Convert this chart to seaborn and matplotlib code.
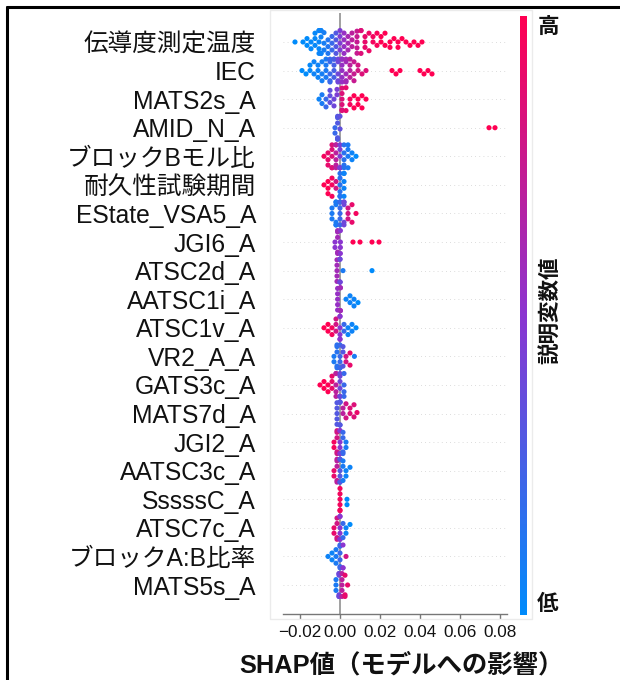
import warnings
warnings.filterwarnings("ignore")
import numpy as np
import pandas as pd
import matplotlib
matplotlib.use("Agg")
import matplotlib.pyplot as plt
import seaborn as sns
from matplotlib.colors import LinearSegmentedColormap
from matplotlib.lines import Line2D
from matplotlib.patches import Rectangle
from matplotlib.cm import ScalarMappable

# ---------------- data ----------------
features = [
    "伝導度測定温度", "IEC", "MATS2s_A", "AMID_N_A", "ブロックBモル比",
    "耐久性試験期間", "EState_VSA5_A", "JGI6_A", "ATSC2d_A", "AATSC1i_A",
    "ATSC1v_A", "VR2_A_A", "GATS3c_A", "MATS7d_A", "JGI2_A",
    "AATSC3c_A", "SssssC_A", "ATSC7c_A", "ブロックA:B比率", "MATS5s_A",
]
# each entry: (SHAP value, number of samples, feature value 0=low .. 1=high)
swarm_01 = [(-0.0225, 1, 0.0), (-0.0185, 1, 0.0), (-0.0165, 2, 0.0), (-0.0145, 2, 0.02),
            (-0.0125, 3, 0.02), (-0.0105, 5, 0.03), (-0.0095, 5, 0.05), (-0.008, 3, 0.08),
            (-0.006, 3, 0.12), (-0.004, 3, 0.2), (-0.002, 4, 0.3), (0.0, 4, 0.45),
            (0.002, 4, 0.55), (0.004, 3, 0.62), (0.006, 3, 0.7), (0.0085, 5, 0.75),
            (0.0105, 3, 0.85), (0.0125, 3, 0.9), (0.0145, 2, 0.92), (0.0165, 2, 0.95),
            (0.0185, 2, 0.97), (0.0205, 2, 1.0), (0.0225, 2, 1.0), (0.025, 2, 1.0),
            (0.027, 1, 1.0), (0.029, 2, 1.0), (0.031, 1, 1.0), (0.033, 1, 1.0),
            (0.035, 1, 1.0), (0.037, 1, 1.0), (0.039, 1, 1.0), (0.041, 1, 1.0)]
swarm_02 = [(-0.019, 1, 0.0), (-0.017, 1, 0.0), (-0.015, 2, 0.02), (-0.013, 2, 0.05),
            (-0.011, 3, 0.05), (-0.009, 3, 0.08), (-0.007, 4, 0.1), (-0.005, 5, 0.2),
            (-0.003, 5, 0.25), (-0.001, 5, 0.4), (0.001, 6, 0.55), (0.003, 5, 0.6),
            (0.005, 4, 0.7), (0.007, 3, 0.75), (0.009, 2, 0.8), (0.011, 1, 0.85),
            (0.013, 1, 0.85), (0.026, 1, 1.0), (0.028, 1, 1.0), (0.030, 1, 1.0),
            (0.040, 1, 1.0), (0.042, 1, 1.0), (0.044, 1, 1.0), (0.046, 1, 1.0)]
swarm_03 = [(-0.0105, 1, 0.05), (-0.009, 2, 0.1), (-0.007, 2, 0.2), (-0.005, 3, 0.35),
            (-0.003, 2, 0.4), (-0.0015, 2, 0.45), (0.001, 6, 0.85), (0.003, 2, 0.9),
            (0.005, 2, 0.95), (0.007, 2, 1.0), (0.009, 2, 1.0), (0.011, 2, 1.0),
            (0.013, 1, 1.0)]
swarm_04 = [(-0.0025, 2, 0.2), (-0.0012, 6, 0.3), (0.0, 2, 0.35),
            (0.0745, 1, 1.0), (0.0775, 1, 1.0)]
swarm_05 = [(-0.008, 1, 0.95), (-0.006, 3, 0.9), (-0.004, 5, 0.85), (-0.002, 6, 0.7),
            (0.0, 6, 0.45), (0.002, 5, 0.15), (0.004, 4, 0.1), (0.006, 2, 0.05),
            (0.008, 1, 0.0)]
swarm_06 = [(-0.008, 1, 1.0), (-0.006, 3, 1.0), (-0.004, 3, 0.95), (-0.002, 2, 0.8),
            (0.0, 6, 0.15), (0.002, 5, 0.05)]
swarm_07 = [(-0.004, 3, 0.1), (-0.002, 6, 0.1), (0.0, 6, 0.2), (0.002, 5, 0.4),
            (0.004, 3, 0.8), (0.006, 2, 0.9), (0.008, 1, 0.95)]
swarm_08 = [(-0.0025, 2, 0.5), (-0.0012, 5, 0.6), (0.0002, 4, 0.5),
            (0.0065, 1, 1.0), (0.010, 1, 1.0), (0.016, 1, 1.0), (0.0195, 1, 1.0)]
swarm_09 = [(-0.0015, 5, 0.6), (0.0, 5, 0.4), (0.0015, 1, 0.1), (0.016, 1, 0.0)]
swarm_10 = [(-0.0012, 5, 0.55), (0.0002, 4, 0.6), (0.003, 1, 0.05), (0.005, 2, 0.05),
            (0.007, 2, 0.05), (0.009, 1, 0.0)]
swarm_11 = [(-0.008, 1, 1.0), (-0.006, 2, 1.0), (-0.004, 2, 0.95), (-0.002, 3, 0.8),
            (0.0, 6, 0.5), (0.002, 2, 0.2), (0.004, 2, 0.05), (0.006, 2, 0.05),
            (0.008, 1, 0.0)]
swarm_12 = [(-0.003, 2, 0.1), (-0.0015, 5, 0.15), (0.0, 5, 0.2), (0.0015, 3, 0.3),
            (0.003, 2, 0.8), (0.005, 2, 0.9), (0.0072, 1, 0.1)]
swarm_13 = [(-0.010, 1, 1.0), (-0.008, 2, 1.0), (-0.006, 2, 1.0), (-0.004, 3, 0.9),
            (-0.002, 5, 0.7), (0.0, 6, 0.4), (0.002, 4, 0.2)]
swarm_14 = [(-0.0015, 5, 0.3), (0.0, 5, 0.3), (0.0015, 2, 0.7), (0.003, 2, 0.8),
            (0.005, 2, 0.85), (0.007, 2, 0.85), (0.0085, 1, 0.9)]
swarm_15 = [(-0.003, 2, 0.95), (-0.0015, 5, 0.8), (0.0, 6, 0.5), (0.0015, 4, 0.2),
            (0.003, 2, 0.1)]
swarm_16 = [(-0.003, 2, 0.9), (-0.0015, 5, 0.7), (0.0, 6, 0.3), (0.0015, 3, 0.1),
            (0.003, 2, 0.05), (0.005, 1, 0.05)]
swarm_17 = [(0.0, 6, 0.95), (0.0035, 2, 0.0)]
swarm_18 = [(-0.003, 2, 0.9), (-0.0015, 4, 0.8), (0.0, 6, 0.5), (0.0015, 2, 0.2),
            (0.003, 2, 0.05), (0.005, 1, 0.0)]
swarm_19 = [(-0.006, 1, 0.05), (-0.004, 2, 0.05), (-0.002, 3, 0.1), (0.0, 6, 0.2),
            (0.0015, 3, 0.5), (0.003, 1, 0.8)]
swarm_20 = [(-0.002, 3, 0.1), (-0.0005, 6, 0.4), (0.001, 5, 0.7), (0.0025, 3, 0.9),
            (0.0038, 1, 0.9)]

swarms = [swarm_01, swarm_02, swarm_03, swarm_04, swarm_05, swarm_06, swarm_07,
          swarm_08, swarm_09, swarm_10, swarm_11, swarm_12, swarm_13, swarm_14,
          swarm_15, swarm_16, swarm_17, swarm_18, swarm_19, swarm_20]

xticks = [-0.02, 0.00, 0.02, 0.04, 0.06, 0.08]
xticklabels = ["\u22120.02", "0.00", "0.02", "0.04", "0.06", "0.08"]

records = []
for name, bins in zip(features, swarms):
    for v, n, c in bins:
        records.extend([(name, v, c)] * n)
df = pd.DataFrame(records, columns=["feature", "shap", "fval"])

# ---------------- style ----------------
sns.set_theme(style="white")
plt.rcParams["font.family"] = ["Liberation Sans", "Noto Sans CJK JP", "DejaVu Sans"]

cmap = LinearSegmentedColormap.from_list("shap_red_blue", ["#008bfb", "#8b35d0", "#ff0052"])

W, H = 620, 680
fig = plt.figure(figsize=(W / 100, H / 100), dpi=100)
top_px, bot_px = 13.4, 613.6
ax = fig.add_axes([283 / W, 1 - bot_px / H, (507 - 283) / W, (bot_px - top_px) / H])

for i in range(len(features)):
    ax.axhline(i, color="#d0d0d0", lw=0.6, dashes=(1, 4), zorder=-2)
ax.axvline(0, color="#999999", lw=1.3, zorder=-1)

sns.swarmplot(data=df, x="shap", y="feature", hue="fval", order=features,
              palette=cmap, hue_norm=(0, 1), size=3.7, linewidth=0,
              legend=False, ax=ax, zorder=3)

ax.set_ylim(len(features), -1)
ax.set_xlim(-0.0285, 0.0835)
ax.set_xticks(xticks)
ax.set_xticklabels(xticklabels)
ax.set_xlabel("")
ax.set_ylabel("")
for s in ["left", "top", "right"]:
    ax.spines[s].set_visible(False)
ax.spines["bottom"].set_color("#777777")
ax.spines["bottom"].set_linewidth(1.0)
ax.tick_params(axis="x", length=3.5, width=1, color="#777777", labelsize=12.3,
               labelcolor="#111111", pad=5, bottom=True)
ax.tick_params(axis="y", length=0, pad=19.5, labelsize=17.7, labelcolor="#111111")
ax.set_facecolor("none")

fig.text(401 / W, 1 - 665 / H, "SHAP値（モデルへの影響）", ha="center", va="center",
         fontsize=18.3, fontweight="bold", color="#111111")

# colorbar
cax = fig.add_axes([520 / W, 1 - 615 / H, 7 / W, (615 - 16) / H])
cb = fig.colorbar(ScalarMappable(cmap=cmap), cax=cax, ticks=[])
cb.outline.set_visible(False)
fig.text(548 / W, 1 - 28 / H, "高", ha="center", va="center", fontsize=15.5,
         fontweight="bold", color="#111111")
fig.text(548 / W, 1 - 605 / H, "低", ha="center", va="center", fontsize=15.5,
         fontweight="bold", color="#111111")
fig.text(551 / W, 1 - 310 / H, "説明変数値", ha="center", va="center", fontsize=15.5,
         fontweight="bold", rotation=90, color="#111111")

# frame
fig.add_artist(Rectangle((270 / W, 1 - 619 / H), (532 - 270) / W, (619 - 10) / H,
                         fill=False, ec="#ebebeb", lw=1, transform=fig.transFigure))
fig.add_artist(Line2D([7 / W, 7 / W], [0, 1 - 7 / H], color="black", lw=2.2,
                      transform=fig.transFigure))
fig.add_artist(Line2D([7 / W, 1], [1 - 7 / H, 1 - 7 / H], color="black", lw=2.2,
                      transform=fig.transFigure))

fig.savefig("out.png", dpi=100, facecolor="white")
